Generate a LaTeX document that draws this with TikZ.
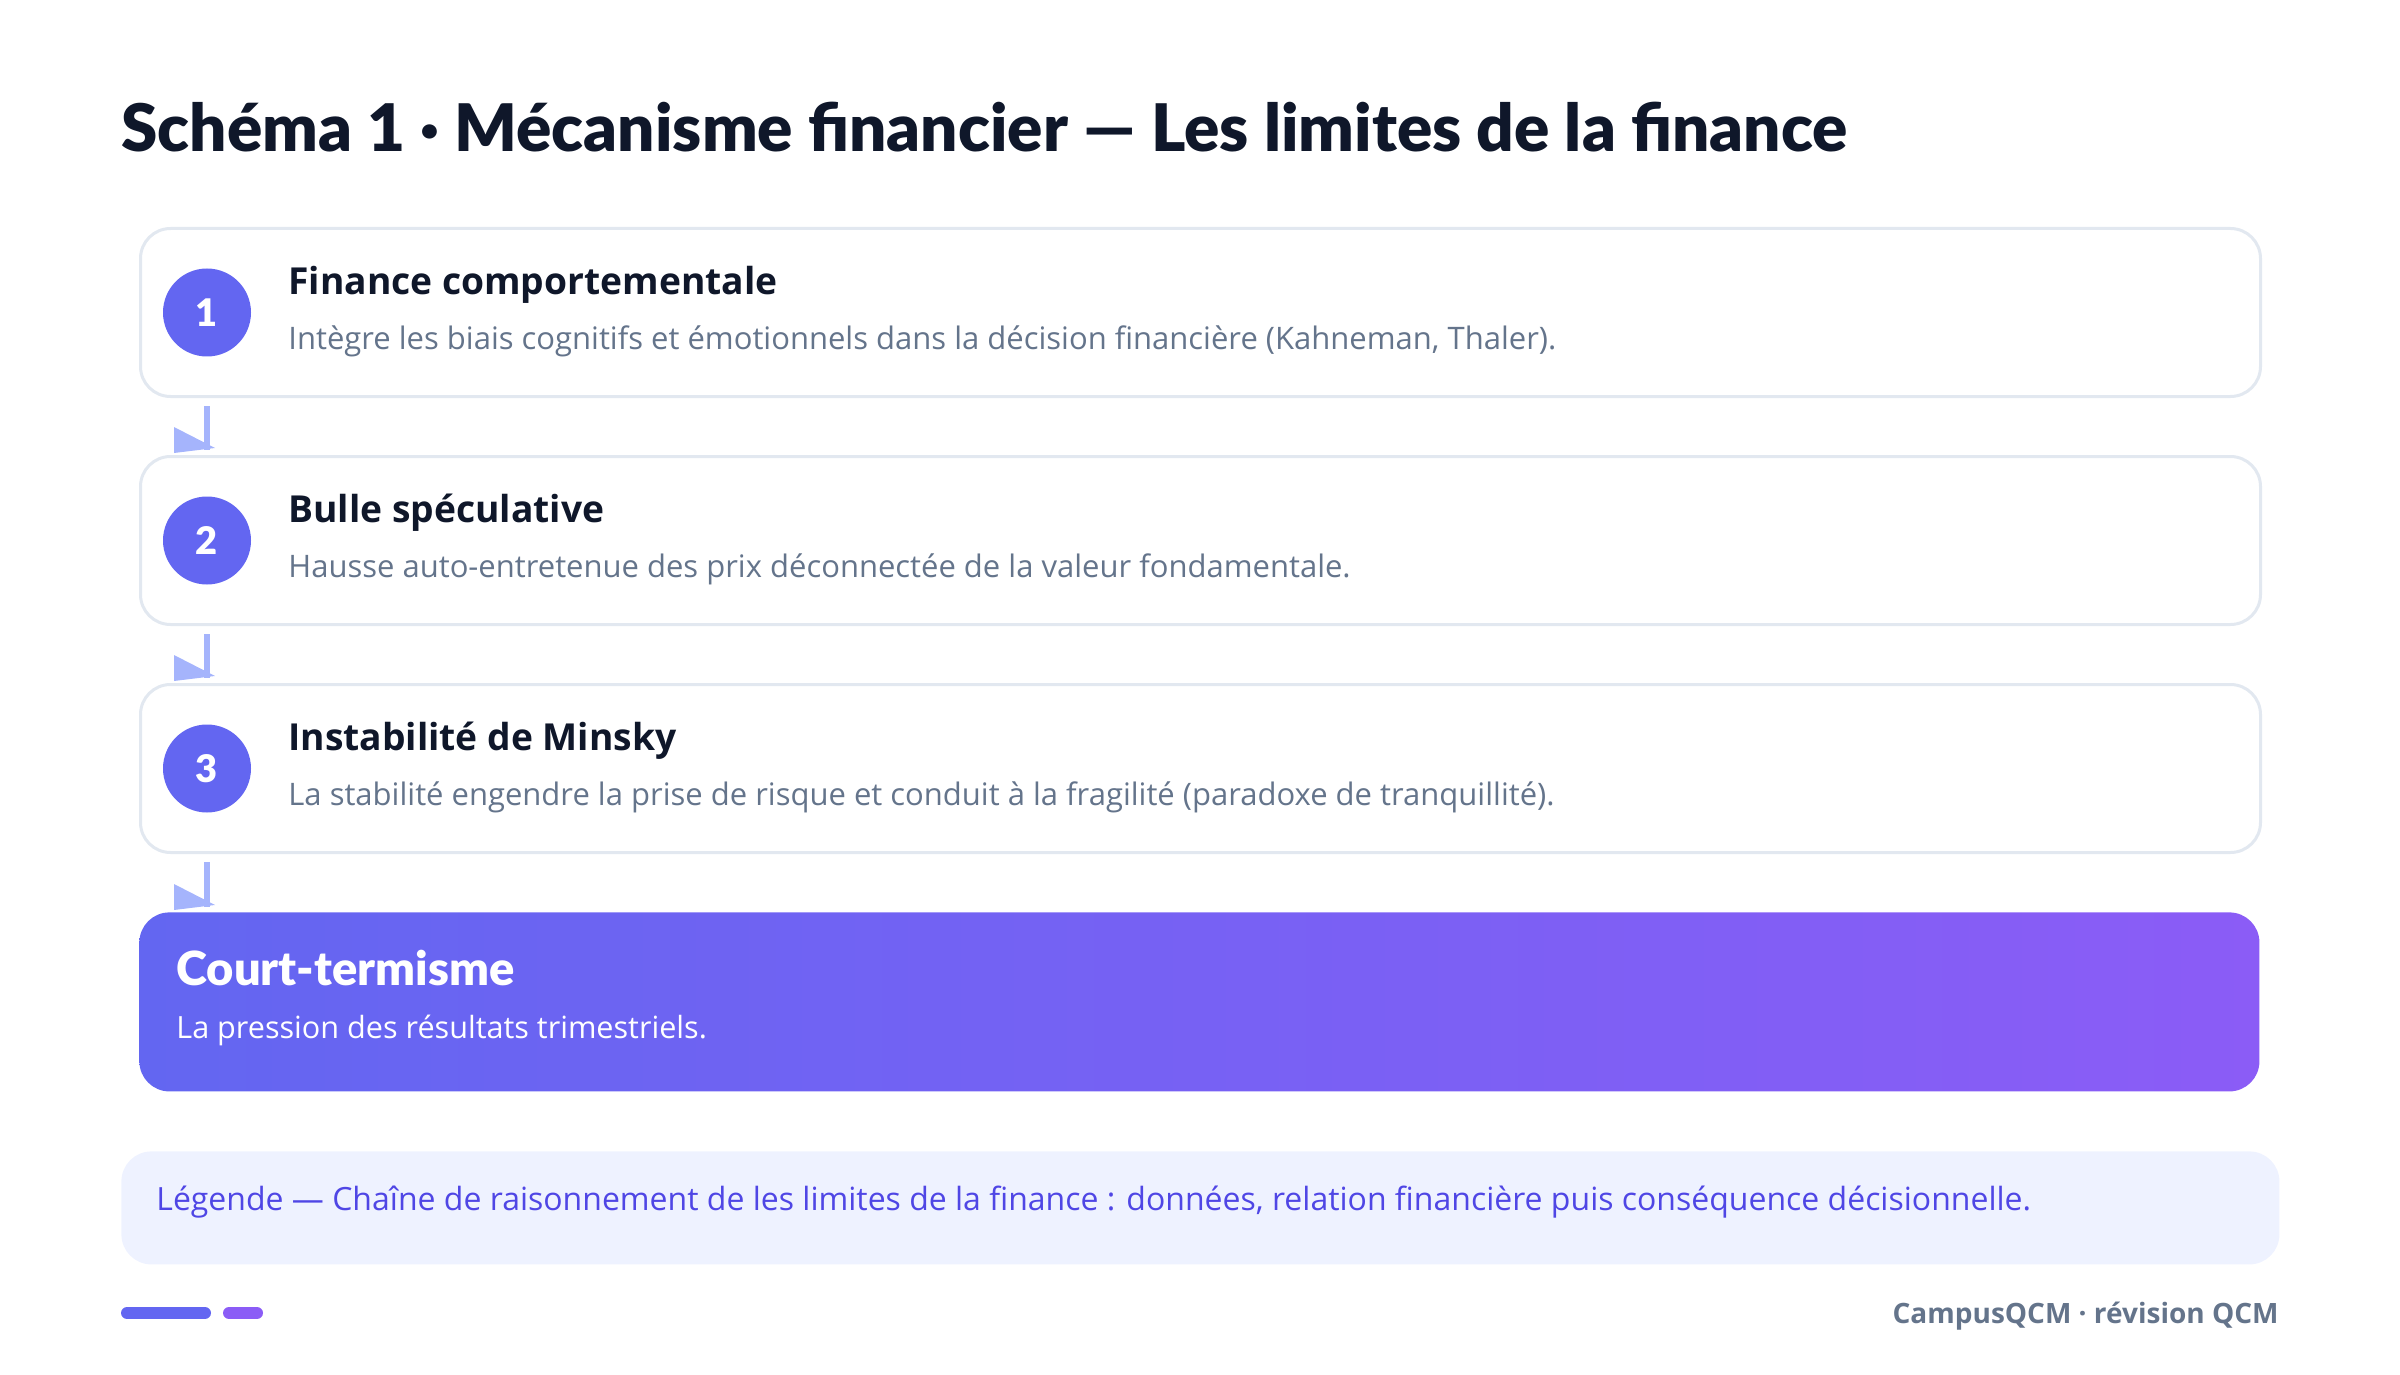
\documentclass[tikz,border=0pt]{standalone}
\usepackage{fontspec}
\setmainfont{Open Sans}
\newfontfamily\blackfont{Lato Black}
\usetikzlibrary{positioning,calc}

\definecolor{ink}{HTML}{0F172A}
\definecolor{muted}{HTML}{64748B}
\definecolor{edge}{HTML}{E2E8F0}
\definecolor{indigo}{HTML}{6366F1}
\definecolor{violet}{HTML}{8B5CF6}
\definecolor{flowc}{HTML}{A5B4FC}
\definecolor{legbg}{HTML}{EEF2FF}
\definecolor{legtx}{HTML}{4F46E5}

\begin{document}
\begin{tikzpicture}[x=0.5pt,y=-0.5pt,
  card/.style={draw=edge, line width=1.5pt, fill=white, rounded corners=15pt,
    minimum width=1060pt, minimum height=84pt, anchor=north west},
  badge/.style={circle, fill=indigo, minimum size=44pt, inner sep=0pt,
    text=white, font=\blackfont\fontsize{19}{19}\selectfont},
  head/.style={anchor=west, inner sep=0pt, text=ink, font=\bfseries\fontsize{18.6}{22}\selectfont},
  desc/.style={anchor=west, inner sep=0pt, text=muted, font=\fontsize{15.5}{18}\selectfont},
  flow/.style={draw=flowc, line width=3pt}]

\useasboundingbox (0,0) rectangle (2400,1375);

\node[anchor=west, inner sep=0pt, text=ink, font=\blackfont\fontsize{32.8}{38}\selectfont]
  (title) at (121,127) {Schéma 1 · Mécanisme financier — Les limites de la finance};

% steps
\node[card] (box1) at (139,227) {};
\node[card] (box2) at (139,455) {};
\node[card] (box3) at (139,683) {};

\foreach \i/\t/\d in {
  1/{Finance comportementale}/{Intègre les biais cognitifs et émotionnels dans la décision financière (Kahneman, Thaler).},
  2/{Bulle spéculative}/{Hausse auto-entretenue des prix déconnectée de la valeur fondamentale.},
  3/{Instabilité de Minsky}/{La stabilité engendre la prise de risque et conduit à la fragilité (paradoxe de tranquillité).}} {
  \node[badge] (c\i) at ($(box\i.west)+(68,0)$) {\i};
  \node[head] (t\i) at ($(box\i.west)+(149,-28)$) {\t};
  \node[desc] (d\i) at ($(box\i.west)+(149,29)$) {\d};
}

% result
\node[anchor=north west, rounded corners=15pt, minimum width=1060pt, minimum height=89.5pt,
  left color=indigo, right color=violet] (box4) at (139,912) {};
\node[anchor=west, inner sep=0pt, text=white, font=\blackfont\fontsize{23.5}{26}\selectfont]
  (t4) at (176,968) {Court-termisme};
\node[anchor=west, inner sep=0pt, text=white, font=\fontsize{15.3}{18}\selectfont]
  (d4) at (176,1030) {La pression des résultats trimestriels.};

% arrows
\foreach \i/\j in {1/2,2/3,3/4} {
  \draw[flow] ($(c\i |- box\i.south)+(0,8)$) -- ($(c\i |- box\j.north)+(0,-5)$);
  \fill[flowc] ($(c\i |- box\j.north)+(-33,-28)$) -- ++(0,26) -- ++(41,-5) -- cycle;
}

% legend
\node[anchor=north west, fill=legbg, rounded corners=15pt, minimum width=1079pt,
  minimum height=56.5pt] (legend) at (121,1151) {};
\node[anchor=west, inner sep=0pt, text=legtx, font=\fontsize{16}{19}\selectfont]
  (legtext) at (156,1202) {Légende — Chaîne de raisonnement de les limites de la finance : données, relation financière puis conséquence décisionnelle.};

% footer
\draw[indigo, line width=6pt, line cap=round] (127,1313) -- (205,1313);
\draw[violet, line width=6pt, line cap=round] (229,1313) -- (257,1313);
\node[anchor=east, inner sep=0pt, text=muted, font=\bfseries\fontsize{14}{16}\selectfont]
  (foot) at (2279,1316) {CampusQCM · révision QCM};

\end{tikzpicture}
\end{document}
